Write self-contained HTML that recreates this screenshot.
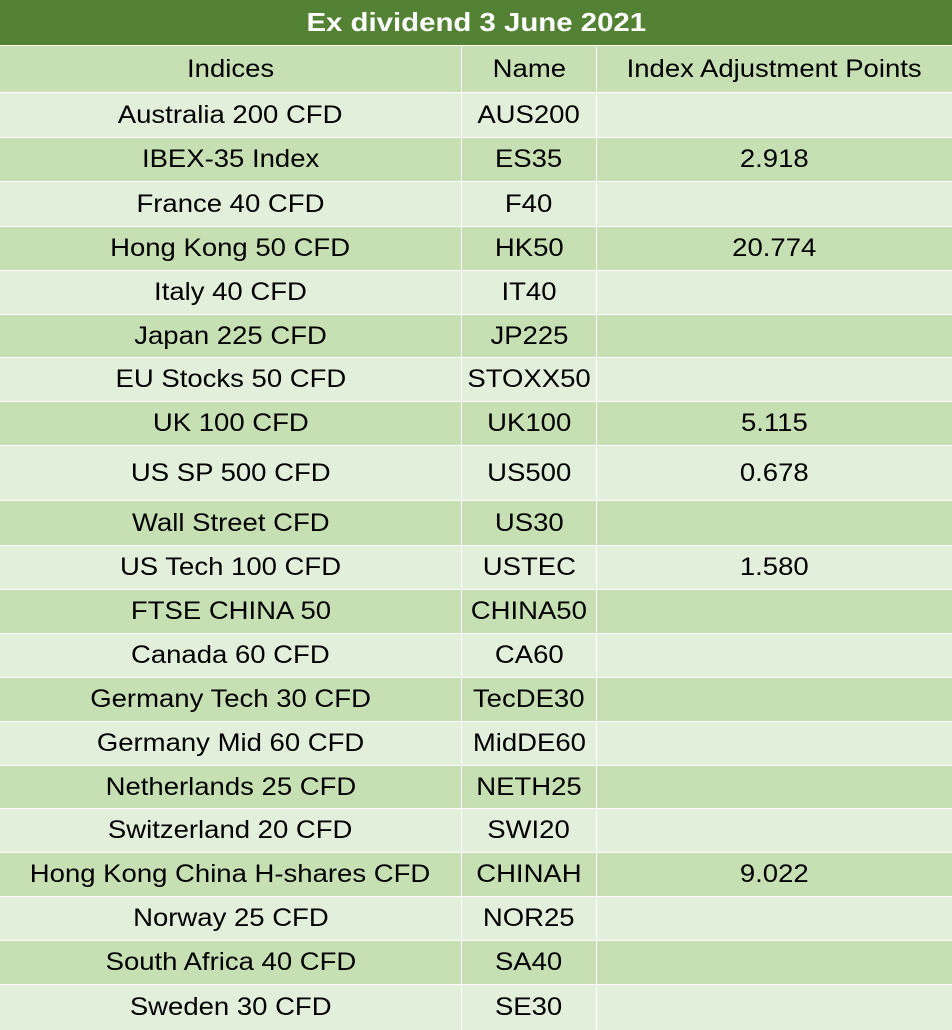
<!DOCTYPE html>
<html><head><meta charset="utf-8"><style>
body{margin:0;width:952px;height:1024px;overflow:hidden;background:#fff;font-family:"Liberation Sans",sans-serif;}
.t{position:absolute;left:0;top:0;width:952px;height:45px;background:#548235;color:#fff;font-weight:bold;font-size:26px;text-align:center;line-height:45px;}
.t span{display:inline-block;transform:scaleX(1.13);}
.r{position:absolute;left:0;width:952px;box-sizing:border-box;border-top:1px solid #fff;}
.c{position:absolute;top:0;height:100%;display:flex;align-items:center;justify-content:center;font-size:25px;color:#000;box-sizing:border-box;}
.c span{display:inline-block;transform:scaleX(1.1);white-space:nowrap;}
.c1{left:0;width:461px;}
.c2{left:461px;width:135px;border-left:1px solid #fff;}
.c3{left:596px;width:356px;border-left:1px solid #fff;}
</style></head><body>
<div class="t"><span>Ex dividend 3 June 2021</span></div>
<div id="tbl"></div>
<script>
const indices=["Indices","Australia 200 CFD","IBEX-35 Index","France 40 CFD","Hong Kong 50 CFD","Italy 40 CFD","Japan 225 CFD","EU Stocks 50 CFD","UK 100 CFD","US SP 500 CFD","Wall Street CFD","US Tech 100 CFD","FTSE CHINA 50","Canada 60 CFD","Germany Tech 30 CFD","Germany Mid 60 CFD","Netherlands 25 CFD","Switzerland 20 CFD","Hong Kong China H-shares CFD","Norway 25 CFD","South Africa 40 CFD","Sweden 30 CFD"];
const names=["Name","AUS200","ES35","F40","HK50","IT40","JP225","STOXX50","UK100","US500","US30","USTEC","CHINA50","CA60","TecDE30","MidDE60","NETH25","SWI20","CHINAH","NOR25","SA40","SE30"];
const points=["Index Adjustment Points","","2.918","","20.774","","","","5.115","0.678","","1.580","","","","","","","9.022","","",""];
const tops=[45,92,137,181,226,270,314,357,401,445,500,545,589,633,677,721,765,808,852,896,940,984,1030];
const tbl=document.getElementById('tbl');
for(let i=0;i<indices.length;i++){
  const r=document.createElement('div');
  
  
  r.className='r';
  r.style.top=tops[i]+'px';
  r.style.height=(tops[i+1]-tops[i])+'px';
  r.style.background=(i%2===0)?'#C6E0B4':'#E2EFDA';
  const vals=[indices[i],names[i],points[i]];
  vals.forEach((v,j)=>{
    const c=document.createElement('div');
    
    
    c.className='c c'+(j+1);
    const s=document.createElement('span');
    s.textContent=v;
    c.appendChild(s);
    r.appendChild(c);
  });
  tbl.appendChild(r);
}
</script>
</body></html>
